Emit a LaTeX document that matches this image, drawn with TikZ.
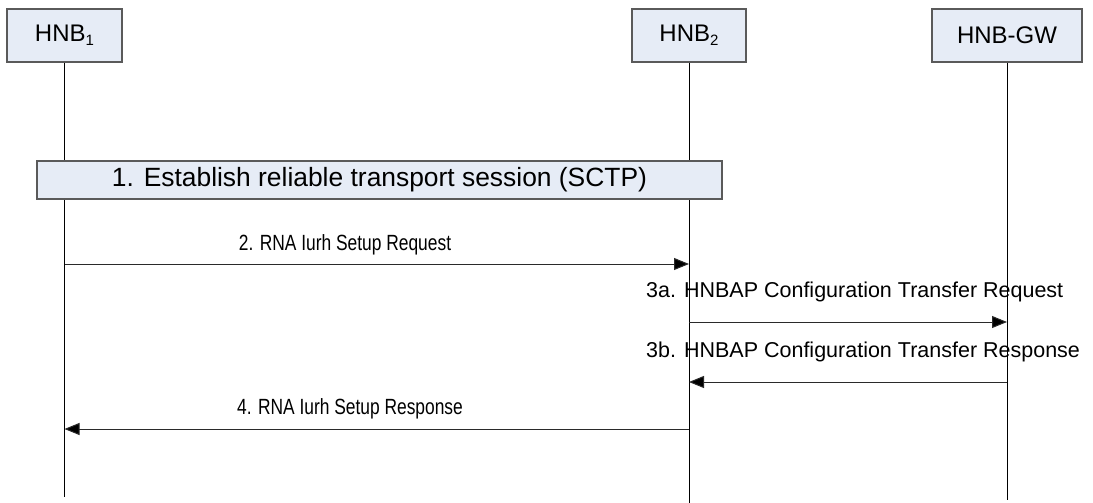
\documentclass[tikz,border=0pt]{standalone}
\usepackage{fontspec}
\setmainfont{Liberation Sans}
\newfontfamily\narrowfont[FakeStretch=0.79]{Liberation Sans}
\usetikzlibrary{arrows.meta}
\definecolor{boxfill}{HTML}{E6ECF6}
\definecolor{boxline}{HTML}{5A5A5A}
\definecolor{msgline}{HTML}{2A2A2A}
\newcommand{\subone}[1]{\raisebox{-0.3ex}{\fontsize{15}{15}\selectfont #1}}
\tikzset{
  entity/.style={draw=boxline, fill=boxfill, line width=1.2pt, inner sep=0pt,
    minimum height=53pt, font=\fontsize{24}{28}\selectfont},
  bar/.style={draw=boxline, fill=boxfill, line width=1.2pt, inner sep=0pt,
    minimum height=38pt, minimum width=685pt, font=\fontsize{26.4}{30}\selectfont},
  life/.style={draw=black, line width=0.8pt},
  msg/.style={draw=msgline, line width=1pt, -{Triangle[length=15pt,width=12pt,fill=black]}},
  lbl/.style={inner sep=0pt, font=\fontsize{21.5}{25}\selectfont},
  nlbl/.style={inner sep=0pt, font=\narrowfont\fontsize{22}{26}\selectfont}
}
\begin{document}
\begin{tikzpicture}[x=1pt,y=-1pt]
\useasboundingbox (0,0) rectangle (1093,503);
% entities
\node[entity, minimum width=115pt] (h1) at (64.5,35.5) {HNB\subone{1}};
\node[entity, minimum width=114pt] (h2) at (689,35.5) {HNB\subone{2}};
\node[entity, minimum width=150pt] (gw) at (1007,35.5) {HNB-GW};
% lifeline ends
\coordinate (h1e) at (64.5,497);
\coordinate (h2e) at (689,503);
\coordinate (gwe) at (1007,500);
\draw[life] (h1) -- (h1e);
\draw[life] (h2) -- (h2e);
\draw[life] (gw) -- (gwe);
% step 1 bar
\node[bar] (s1) at (379.5,180) {1. Establish reliable transport session (SCTP)};
% message points
\coordinate (m2a) at (64.5,264);
\coordinate (m2b) at (689,264);
\coordinate (m3aa) at (689,322);
\coordinate (m3ab) at (1007,322);
\coordinate (m3ba) at (1007,382);
\coordinate (m3bb) at (689,382);
\coordinate (m4a) at (689,429);
\coordinate (m4b) at (64.5,429);
\draw[msg] (m2a) -- (m2b);
\draw[msg] (m3aa) -- (m3ab);
\draw[msg] (m3ba) -- (m3bb);
\draw[msg] (m4a) -- (m4b);
% labels
\node[nlbl] (l2) at (345,245) {2. RNA Iurh Setup Request};
\node[lbl, anchor=west] (l3a) at (646,292) {3a. HNBAP Configuration Transfer Request};
\node[lbl, anchor=west] (l3b) at (646,352) {3b. HNBAP Configuration Transfer Response};
\node[nlbl] (l4) at (350,409) {4. RNA Iurh Setup Response};
\end{tikzpicture}
\end{document}
